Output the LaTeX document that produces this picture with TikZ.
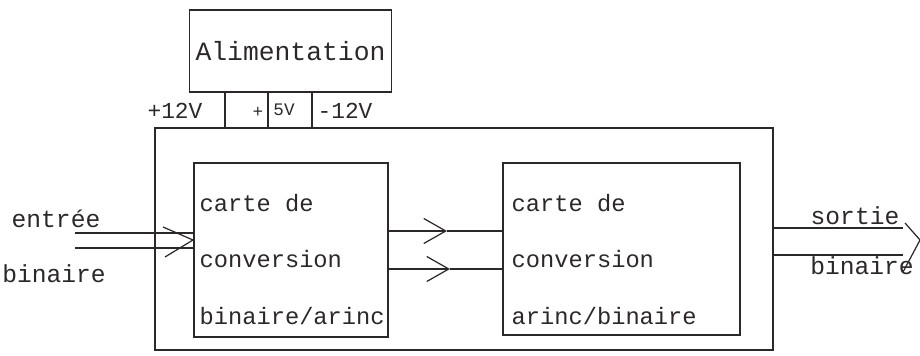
\documentclass[tikz,border=0pt]{standalone}
\usepackage{fontspec}
\setmonofont{Liberation Mono}
\usetikzlibrary{arrows.meta}
\definecolor{ink}{RGB}{45,40,40}
\begin{document}
\begin{tikzpicture}[>={Straight Barb[length=0.44cm,width=0.5cm]}, line width=0.7pt, color=ink,
  txt/.style={font=\ttfamily\fontsize{14}{32}\selectfont, inner sep=0pt}]
  \useasboundingbox (0,0) rectangle (18.4,7.1);
  % boites
  \node[draw, minimum width=3.98cm, minimum height=1.64cm, font=\ttfamily\fontsize{15}{18}\selectfont] (alim) at (5.81,6.08) {Alimentation};
  \node[draw, minimum width=12.36cm, minimum height=4.44cm] (boite) at (9.28,2.32) {};
  \node[draw, minimum width=3.88cm, minimum height=3.48cm] (carte1) at (5.82,2.10) {};
  \node[draw, minimum width=4.74cm, minimum height=3.44cm] (carte2) at (12.43,2.12) {};
  \node[txt, font=\ttfamily\fontsize{13.5}{32}\selectfont, align=left, anchor=base west] (t1) at (3.98,0.62) {carte de\\conversion\\binaire/arinc};
  \node[txt, font=\ttfamily\fontsize{13.5}{32}\selectfont, align=left, anchor=base west] (t2) at (10.22,0.62) {carte de\\conversion\\arinc/binaire};
  % alimentations
  \foreach \x [count=\i] in {4.50,5.36,6.24}
    \coordinate (v\i) at (\x,0);
  \foreach \i in {1,2,3}
    \draw (alim.south -| v\i) -- (boite.north -| v\i);
  \node[txt, font=\ttfamily\fontsize{13}{15}\selectfont] (p12) at (3.50,4.88) {+12V};
  \node[txt, font=\ttfamily\fontsize{10}{12}\selectfont] (p5) at (5.16,4.86) {+};
  \node[txt, font=\ttfamily\fontsize{10}{12}\selectfont] (v5) at (5.68,4.90) {5V};
  \node[txt, font=\ttfamily\fontsize{13}{15}\selectfont] (m12) at (6.90,4.88) {-12V};
  % entree
  \coordinate (in1) at (1.50,2.44);
  \coordinate (in2) at (1.50,2.14);
  \coordinate (tin) at (3.86,2.30);
  \draw (in1) -- (in1 -| carte1.west);
  \draw (in2) -- (in2 -| carte1.west);
  \draw ([shift={(-0.60,0.26)}]tin) -- (tin) -- ([shift={(-0.56,-0.34)}]tin);
  \node[txt] (e1) at (1.12,2.72) {entrée};
  \node[txt] (e2) at (1.08,1.62) {binaire};
  % liaisons
  \coordinate (m1) at (8.94,2.48);
  \coordinate (m2) at (9.00,1.72);
  \draw[->] (carte1.east |- m1) -- (m1);
  \draw (m1) -- (carte2.west |- m1);
  \draw[->] (carte1.east |- m2) -- (m2);
  \draw (m2) -- (carte2.west |- m2);
  % sortie
  \coordinate (o1) at (18.06,2.54);
  \coordinate (o2) at (18.06,2.00);
  \coordinate (tout) at (18.40,2.30);
  \draw (boite.east |- o1) -- (o1);
  \draw[line width=1.3pt] (boite.east |- o2) -- (o2);
  \draw ([shift={(-0.30,0.34)}]tout) -- (tout) -- ([shift={(-0.34,-0.64)}]tout);
  \node[txt] (s1) at (17.10,2.78) {sortie};
  \node[txt] (s2) at (17.24,1.78) {binaire};
\end{tikzpicture}
\end{document}
